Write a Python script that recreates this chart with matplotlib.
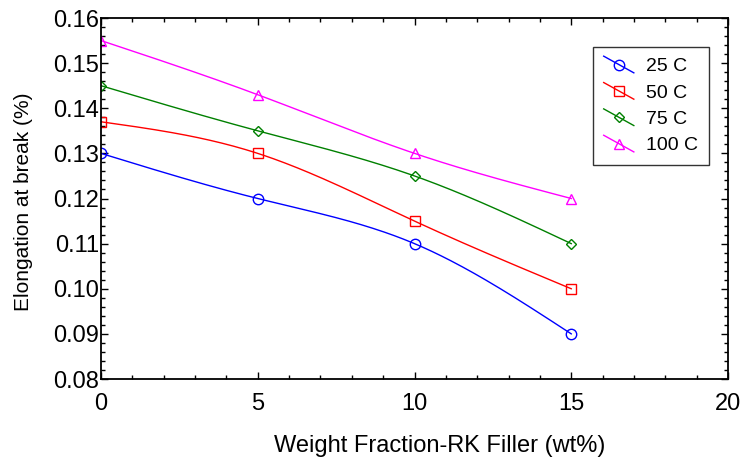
import numpy as np
import matplotlib
matplotlib.use('Agg')
import matplotlib.pyplot as plt
from matplotlib.legend_handler import HandlerLine2D
from matplotlib.lines import Line2D

plt.rcParams['font.family'] = ['Liberation Sans', 'DejaVu Sans']

# data
filler = [0, 5, 10, 15]
temps = ['25 C', '50 C', '75 C', '100 C']
elong_25 = [0.130, 0.120, 0.110, 0.090]
elong_50 = [0.137, 0.130, 0.115, 0.100]
elong_75 = [0.145, 0.135, 0.125, 0.110]
elong_100 = [0.155, 0.143, 0.130, 0.120]

series = [elong_25, elong_50, elong_75, elong_100]
colors = ['#0000ff', '#ff0000', '#008000', '#ff00ff']
markers = ['o', 's', 'D', '^']
msizes = [7.5, 7.5, 5, 6.5]


def smooth(x, y, n=200):
    # natural cubic spline, only for drawing the curve
    x = np.asarray(x, float)
    y = np.asarray(y, float)
    k = len(x)
    h = np.diff(x)
    A = np.zeros((k, k))
    b = np.zeros(k)
    A[0, 0] = A[-1, -1] = 1
    for i in range(1, k - 1):
        A[i, i - 1] = h[i - 1]
        A[i, i] = 2 * (h[i - 1] + h[i])
        A[i, i + 1] = h[i]
        b[i] = 3 * ((y[i + 1] - y[i]) / h[i] - (y[i] - y[i - 1]) / h[i - 1])
    c = np.linalg.solve(A, b)
    xs = np.linspace(x[0], x[-1], n)
    ys = np.empty_like(xs)
    for j, xv in enumerate(xs):
        i = min(np.searchsorted(x, xv, side='right') - 1, k - 2)
        d = xv - x[i]
        bb = (y[i + 1] - y[i]) / h[i] - h[i] * (2 * c[i] + c[i + 1]) / 3
        dd = (c[i + 1] - c[i]) / (3 * h[i])
        ys[j] = y[i] + bb * d + c[i] * d ** 2 + dd * d ** 3
    return xs, ys


class SlopedHandler(HandlerLine2D):
    # legend line drawn sloping down, marker in the middle
    def create_artists(self, legend, orig_handle, xdescent, ydescent,
                       width, height, fontsize, trans):
        arts = super().create_artists(legend, orig_handle, xdescent, ydescent,
                                      width, height, fontsize, trans)
        drop = 12.0
        for a in arts:
            yd = np.asarray(a.get_ydata(), float)
            if len(yd) > 1:
                a.set_ydata(yd + np.linspace(drop / 2, -drop / 2, len(yd)))
        return arts


fig = plt.figure(figsize=(7.47, 4.57), dpi=100)
ax = fig.add_axes([101 / 747, 1 - 379 / 457, 627 / 747, 361 / 457])

handles = []
for vals, col, mk, ms, lab in zip(series, colors, markers, msizes, temps):
    xs, ys = smooth(filler, vals)
    ax.plot(xs, ys, color=col, lw=1.0)
    ax.plot(filler, vals, ls='none', marker=mk, ms=ms, mfc='none',
            mec=col, mew=1.0)
    handles.append(Line2D([], [], color=col, lw=1.0, marker=mk, ms=ms,
                          mfc='none', mec=col, mew=1.0, label=lab))

ax.set_xlim(0, 20)
ax.set_ylim(0.08, 0.16)
ax.set_xticks([0, 5, 10, 15, 20])
ax.set_yticks(np.arange(0.08, 0.1601, 0.01))
ax.set_yticklabels(['%.2f' % v for v in np.arange(0.08, 0.1601, 0.01)])
ax.set_xticks(np.arange(0, 21, 1), minor=True)
ax.set_yticks(np.arange(0.08, 0.1601, 0.002), minor=True)
ax.tick_params(which='both', direction='in', top=True, right=True,
               labelsize=17, width=1.0)
ax.tick_params(which='major', length=5)
ax.tick_params(which='minor', length=3)
ax.tick_params(axis='x', which='major', pad=10)
ax.tick_params(axis='y', which='major', pad=1.5)
for s in ax.spines.values():
    s.set_linewidth(1.3)

ax.set_xlabel('Weight Fraction-RK Filler (wt%)', fontsize=17, labelpad=12)
ax.xaxis.set_label_coords((440 - 101) / 627, -0.155)
ax.set_ylabel('Elongation at break (%)', fontsize=15)
ax.yaxis.set_label_coords(-(101 - 33) / 627, (379 - 202) / 361)

leg = ax.legend(handles=handles, loc='upper left',
                bbox_to_anchor=((593 - 101) / 627, (379 - 47) / 361),
                borderaxespad=0,
                fontsize=14, frameon=True, fancybox=False, edgecolor='black',
                handlelength=1.55, handletextpad=0.65, borderpad=0.55,
                labelspacing=0.45, handler_map={Line2D: SlopedHandler()})
leg.get_frame().set_linewidth(1.0)

fig.savefig('out.png', dpi=100)
